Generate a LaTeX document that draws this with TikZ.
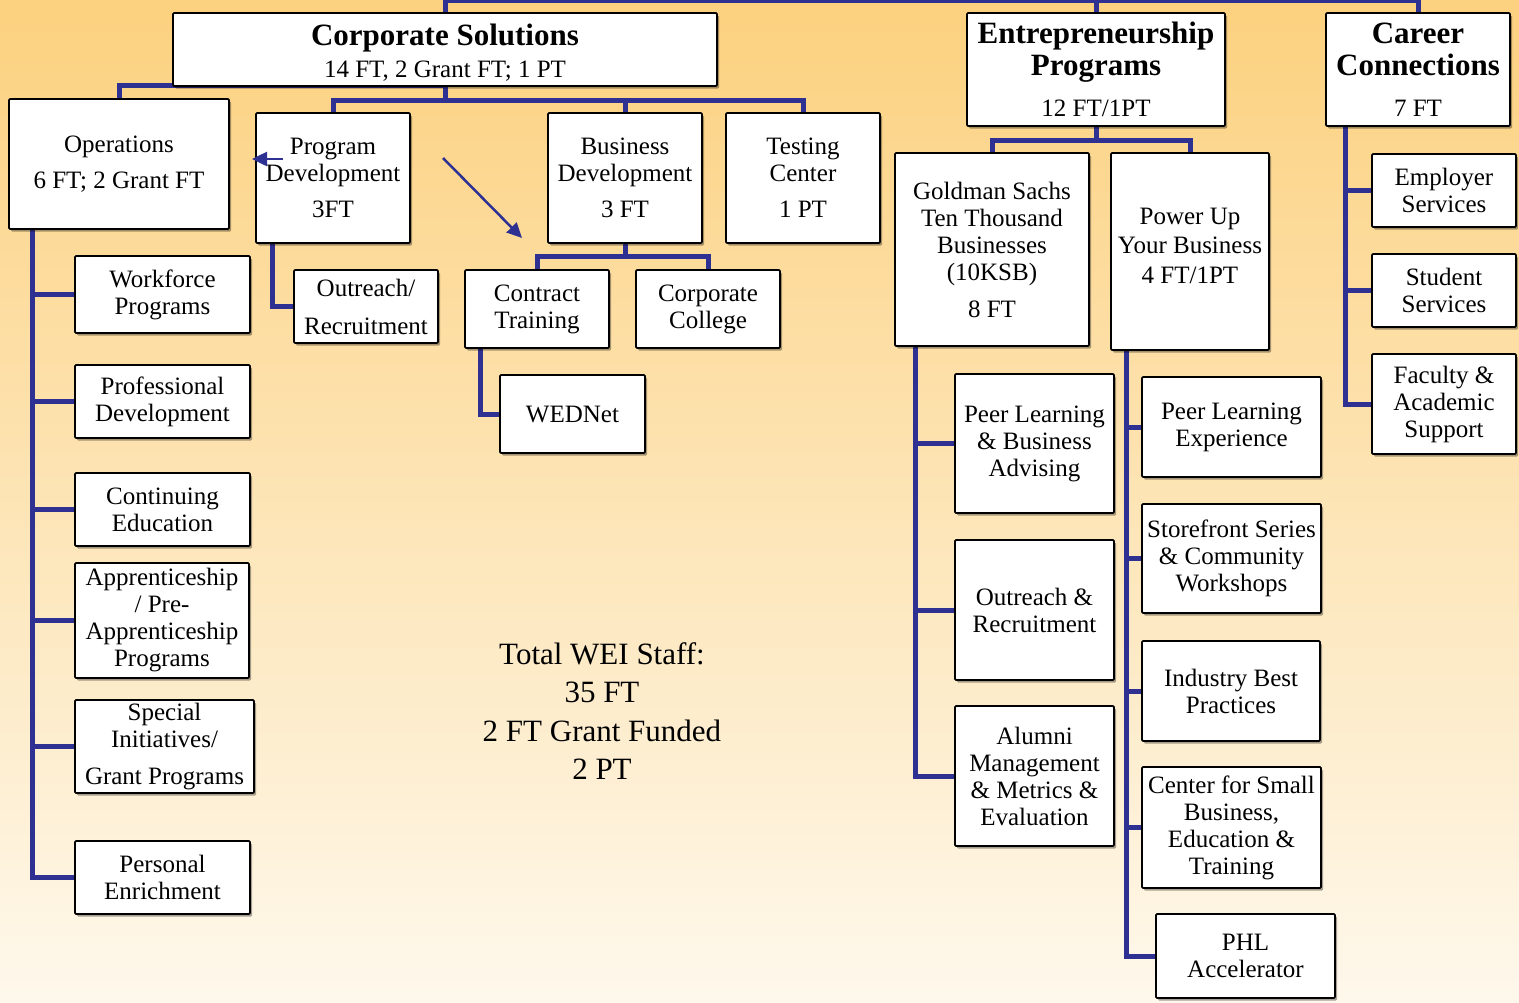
\documentclass[tikz,border=0pt]{standalone}
\usepackage{fontspec}
\setmainfont{Liberation Serif}
\usetikzlibrary{shadows,arrows.meta}
\pgfdeclarelayer{backdrop}
\pgfdeclarelayer{wires}
\pgfsetlayers{backdrop,wires,main}
\definecolor{navy}{RGB}{46,49,146}
\definecolor{topglow}{RGB}{252,209,127}
\definecolor{midglow}{RGB}{253,226,172}
\definecolor{lowglow}{RGB}{254,248,236}

\begin{document}
\begin{tikzpicture}[x=1pt,y=-1pt,
  box/.style={draw=black, line width=1.8pt, fill=white, rounded corners=1.2pt,
    inner sep=0pt, align=center, font=\fontsize{25}{27}\selectfont,
    drop shadow={shadow xshift=2pt, shadow yshift=-2.5pt, fill=black, opacity=0.35}},
  headbox/.style={box, font=\fontsize{31}{32}\selectfont},
  link/.style={draw=navy, line width=5pt},
  pointer/.style={draw=navy, line width=2.5pt, -{Triangle[length=15pt,width=14pt]}},
  totals/.style={align=center, inner sep=0pt, font=\fontsize{31}{38.5}\selectfont}]

\useasboundingbox (0,0) rectangle (1519,1002);
\begin{pgfonlayer}{backdrop}
  \shade[top color=topglow, middle color=midglow, bottom color=lowglow]
    (0,0) rectangle (1519,1002);
\end{pgfonlayer}

% ---- Corporate Solutions ----
\node[headbox, minimum width=544, minimum height=73] (cs) at (445,49.5)
  {\mbox{}\\[-5pt]\textbf{Corporate Solutions}\\{\fontsize{25}{32}\selectfont 14 FT, 2 Grant FT; 1 PT}};
\node[box, minimum width=220, minimum height=130] (ops) at (119,164)
  {Operations\\[9pt]6 FT; 2 Grant FT};
\node[box, minimum width=154, minimum height=130] (pd) at (333,178)
  {Program\\Development\\[9pt]3FT};
\node[box, minimum width=154, minimum height=130] (bd) at (625,178)
  {Business\\Development\\[9pt]3 FT};
\node[box, minimum width=154, minimum height=130] (tc) at (803,178)
  {Testing\\Center\\[9pt]1 PT};

\node[box, minimum width=175, minimum height=77] (wf) at (162.5,294.5) {Workforce\\Programs};
\node[box, minimum width=175, minimum height=73] (prof) at (162.5,401.5) {Professional\\Development};
\node[box, minimum width=175, minimum height=73] (cont) at (162.5,509.5) {Continuing\\Education};
\node[box, minimum width=174, minimum height=115] (appr) at (162,620.5)
  {Apprenticeship\\/ Pre-\\Apprenticeship\\Programs};
\node[box, minimum width=179, minimum height=93] (spec) at (164.5,746.5)
  {Special\\Initiatives/\\[10pt]Grant Programs};
\node[box, minimum width=175, minimum height=73] (pers) at (162.5,877.5) {Personal\\Enrichment};

\node[box, minimum width=144, minimum height=73] (outr) at (366,306.5) {Outreach/\\[11pt]Recruitment};
\node[box, minimum width=144, minimum height=78] (ct) at (537,309) {Contract\\Training};
\node[box, minimum width=144, minimum height=78] (cc) at (708,309) {Corporate\\College};
\node[box, minimum width=145, minimum height=78] (wed) at (572.5,414) {WEDNet};

% ---- Entrepreneurship Programs ----
\node[headbox, minimum width=258, minimum height=113] (ep) at (1096,69.5)
  {\textbf{Entrepreneurship}\\\textbf{Programs}\\[9pt]{\fontsize{25}{32}\selectfont 12 FT/1PT}};
\node[box, minimum width=194, minimum height=193] (gs) at (992,249.5)
  {Goldman Sachs\\Ten Thousand\\Businesses\\(10KSB)\\[10pt]8 FT};
\node[box, minimum width=158, minimum height=197] (pu) at (1190,251.5)
  {Power Up\\[2pt]Your Business\\[3pt]4 FT/1PT\\[-15pt]\mbox{}};

\node[box, minimum width=159, minimum height=139] (plb) at (1034.5,443.5)
  {Peer Learning\\\& Business\\Advising};
\node[box, minimum width=159, minimum height=140] (orr) at (1034.5,610)
  {Outreach \&\\Recruitment};
\node[box, minimum width=159, minimum height=140] (alm) at (1034.5,776)
  {Alumni\\Management\\\& Metrics \&\\Evaluation};

\node[box, minimum width=179, minimum height=100] (ple) at (1231.5,427)
  {Peer Learning\\Experience};
\node[box, minimum width=179, minimum height=109] (sto) at (1231.5,558.5)
  {Storefront Series\\\& Community\\Workshops};
\node[box, minimum width=178, minimum height=100] (ibp) at (1231,691)
  {Industry Best\\Practices};
\node[box, minimum width=179, minimum height=121] (csb) at (1231.5,827.5)
  {Center for Small\\Business,\\Education \&\\Training};
\node[box, minimum width=179, minimum height=84] (phl) at (1245.5,956)
  {PHL\\Accelerator};

% ---- Career Connections ----
\node[headbox, minimum width=184, minimum height=113] (car) at (1418,69.5)
  {\textbf{Career}\\\textbf{Connections}\\[9pt]{\fontsize{25}{32}\selectfont 7 FT}};
\node[box, minimum width=144, minimum height=73] (emp) at (1444,190.5) {Employer\\Services};
\node[box, minimum width=144, minimum height=73] (stu) at (1444,290.5) {Student\\Services};
\node[box, minimum width=144, minimum height=100] (fac) at (1444,404)
  {Faculty \&\\Academic\\Support};

% ---- staff totals ----
\node[totals] (total) at (602,711)
  {Total WEI Staff:\\35 FT\\2 FT Grant Funded\\2 PT};

% ---- connectors ----
\begin{pgfonlayer}{wires}
  \coordinate (topbar) at (0,0.3);
  \draw[link] (cs.north) -- (cs.north |- topbar) -| (car.north);
  \draw[link] (ep.north) -- (ep.north |- topbar);

  \path (cs.south) ++(0,14) coordinate (csbus);
  \draw[link] (cs.south) -- (csbus);
  \draw[link] (csbus) -| (pd.north);
  \draw[link] (csbus) -| (bd.north);
  \draw[link] (csbus) -| (tc.north);
  \draw[link] ([yshift=1.5pt]cs.south) -| (ops.north);

  \coordinate (opsspine) at ([xshift=24pt]ops.south west);
  \foreach \kid in {wf,prof,cont,appr,spec,pers}
    \draw[link] (opsspine) |- (\kid.west);

  \draw[link] ([xshift=17pt]pd.south west) |- (outr.west);

  \path (bd.south) ++(0,13) coordinate (bdbus);
  \draw[link] (bd.south) -- (bdbus);
  \draw[link] (bdbus) -| (ct.north);
  \draw[link] (bdbus) -| (cc.north);
  \draw[link] ([xshift=16pt]ct.south west) |- (wed.west);

  \path (ep.south) ++(0,14) coordinate (epbus);
  \draw[link] (ep.south) -- (epbus);
  \draw[link] (epbus) -| (gs.north);
  \draw[link] (epbus) -| (pu.north);

  \coordinate (gsspine) at ([xshift=21pt]gs.south west);
  \foreach \kid in {plb,orr,alm}
    \draw[link] (gsspine) |- (\kid.west);

  \coordinate (puspine) at ([xshift=16pt]pu.south west);
  \foreach \kid in {ple,sto,ibp,csb,phl}
    \draw[link] (puspine) |- (\kid.west);

  \coordinate (carspine) at ([xshift=20pt]car.south west);
  \foreach \kid in {emp,stu,fac}
    \draw[link] (carspine) |- (\kid.west);
\end{pgfonlayer}

% ---- pointer arrows ----
\coordinate (leftfrom) at (283,159);
\coordinate (leftto) at (252,159);
\draw[pointer] (leftfrom) -- (leftto);
\coordinate (diagfrom) at (443,158);
\coordinate (diagto) at (522,238);
\draw[pointer] (diagfrom) -- (diagto);
\end{tikzpicture}
\end{document}
